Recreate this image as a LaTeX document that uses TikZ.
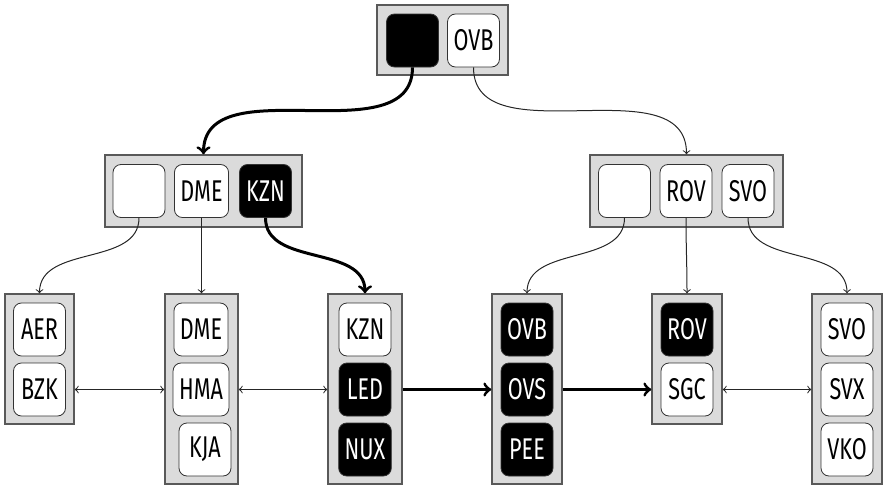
\documentclass[tikz,border=0pt]{standalone}
\usepackage{fontspec}
\setmainfont[FakeStretch=0.72]{Fira Sans}

\begin{document}
\begin{tikzpicture}[x=0.5pt,y=-0.5pt,
	key/.style={draw=black!80,fill=white,rounded corners=4pt,minimum width=26pt,minimum height=26.5pt,inner sep=3pt,font=\fontsize{15}{15}\selectfont},
	hot/.style={key,fill=black,text=white},
	pagebox/.style={draw=black!65,fill=black!14,line width=0.75pt,inner sep=0pt},
	link/.style={->,draw=black!85,line width=0.5pt},
	hotlink/.style={->,line width=1.5pt}]
	\useasboundingbox (0,0) rectangle (894,498);
	
	% root
	\node[pagebox,minimum width=65.5pt,minimum height=35pt] (root) at (442.5,40) {};
	\node[hot] (rp) at (412.5,40.5) {};
	\node[key] (rovb) at (473.5,40.5) {OVB};
	
	% second level
	\node[pagebox,minimum width=98.5pt,minimum height=36pt] (inl) at (203.5,191) {};
	\node[key] (inl0) at (139,191) {};
	\node[key] (dme) at (201.5,191) {DME};
	\node[hot] (kzn) at (265.5,191) {KZN};
	
	\node[pagebox,minimum width=96.5pt,minimum height=36pt] (inr) at (686.5,191) {};
	\node[key] (inr0) at (624.5,191) {};
	\node[key] (rov) at (686,191) {ROV};
	\node[key] (svo) at (748,191) {SVO};
	
	% leaves
	\node[pagebox,minimum width=34.5pt,minimum height=65pt] (leafa) at (39.5,359) {};
	\node[key] (aer) at (39.5,329.5) {AER};
	\node[key] (bzk) at (39.5,389.5) {BZK};
	
	\node[pagebox,minimum width=36.5pt,minimum height=95pt] (leafb) at (201.5,389) {};
	\node[key] (ldme) at (201,329.5) {DME};
	\node[key] (hma) at (201,389.5) {HMA};
	\node[key] (kja) at (205,449.5) {KJA};
	
	\node[pagebox,minimum width=37pt,minimum height=95pt] (leafc) at (365,389) {};
	\node[key] (lkzn) at (365,329.5) {KZN};
	\node[hot] (led) at (365,389.5) {LED};
	\node[hot] (nux) at (365,449.5) {NUX};
	
	\node[pagebox,minimum width=35pt,minimum height=95pt] (leafd) at (527,389) {};
	\node[hot] (lovb) at (527,329.5) {OVB};
	\node[hot] (ovs) at (527,389.5) {OVS};
	\node[hot] (pee) at (527,449.5) {PEE};
	
	\node[pagebox,minimum width=35pt,minimum height=65pt] (leafe) at (687,359) {};
	\node[hot] (lrov) at (687,329.5) {ROV};
	\node[key] (sgc) at (687,389.5) {SGC};
	
	\node[pagebox,minimum width=35pt,minimum height=95pt] (leaff) at (847,389) {};
	\node[key] (lsvo) at (847,329.5) {SVO};
	\node[key] (svx) at (847,389.5) {SVX};
	\node[key] (vko) at (847,449.5) {VKO};
	
	% pointers down
	\draw[hotlink] (rp.south) to[out=-90,in=90] (inl.north);
	\draw[link] (rovb.south) to[out=-90,in=90] (inr.north);
	\draw[link] (inl0.south) to[out=-90,in=90] (leafa.north);
	\draw[link] (dme.south) -- (dme.south |- leafb.north);
	\draw[hotlink] (kzn.south) to[out=-90,in=90] (leafc.north);
	\draw[link] (inr0.south) to[out=-90,in=90] (leafd.north);
	\draw[link] (rov.south) to[out=-90,in=90] (leafe.north);
	\draw[link] (svo.south) to[out=-90,in=90] (leaff.north);
	
	% sibling links
	\draw[link,<->] (bzk -| leafa.east) -- (hma -| leafb.west);
	\draw[link,<->] (hma -| leafb.east) -- (led -| leafc.west);
	\draw[hotlink] (led -| leafc.east) -- (ovs -| leafd.west);
	\draw[hotlink] (ovs -| leafd.east) -- (sgc -| leafe.west);
	\draw[link,<->] (sgc -| leafe.east) -- (svx -| leaff.west);
\end{tikzpicture}
\end{document}
